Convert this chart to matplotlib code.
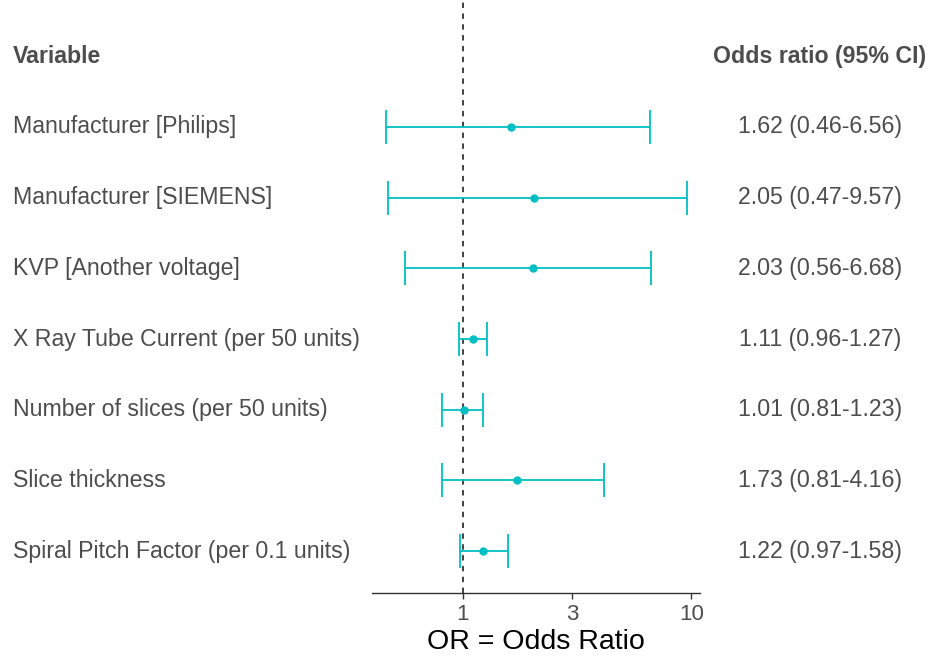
import numpy as np
import matplotlib
matplotlib.use('Agg')
import matplotlib.pyplot as plt
import matplotlib.transforms as mtransforms

plt.rcParams['font.family'] = ['Liberation Sans', 'DejaVu Sans']

variables = ['Manufacturer [Philips]',
             'Manufacturer [SIEMENS]',
             'KVP [Another voltage]',
             'X Ray Tube Current (per 50 units)',
             'Number of slices (per 50 units)',
             'Slice thickness',
             'Spiral Pitch Factor (per 0.1 units)']
odds = [1.62, 2.05, 2.03, 1.11, 1.01, 1.73, 1.22]
lower = [0.46, 0.47, 0.56, 0.96, 0.81, 0.81, 0.97]
upper = [6.56, 9.57, 6.68, 1.27, 1.23, 4.16, 1.58]
xticks = [1, 3, 10]

teal = '#00BFC4'
txt = '#4D4D4D'
fnt = 16.7

fig = plt.figure(figsize=(9.34, 6.62), dpi=100)
ax = fig.add_axes([372/934, 69/662, 328/934, 593/662])

rows = np.arange(1, len(variables)+1)
odds = np.array(odds)
lower = np.array(lower)
upper = np.array(upper)
err = np.vstack([odds-lower, upper-odds])

ax.axvline(1, color='#333333', ls=(0, (3, 3)), lw=1.3, zorder=1)
ax.errorbar(odds, rows, xerr=err, fmt='o', color=teal, ms=5,
            elinewidth=1.3, capsize=12, capthick=1.3, zorder=3)

ax.set_xscale('log')
ax.set_xlim(0.40, 10.9)
ax.set_ylim(7.594, -0.797)
ax.set_xticks(xticks)
ax.set_xticklabels([str(t) for t in xticks])
ax.minorticks_off()
ax.set_yticks([])
for s in ['top', 'right', 'left']:
    ax.spines[s].set_visible(False)
ax.spines['bottom'].set_color('#333333')
ax.spines['bottom'].set_linewidth(1.0)
ax.tick_params(axis='x', colors='#333333', labelcolor=txt, labelsize=16,
               length=4, width=1.0, pad=4)
ax.set_xlabel('OR = Odds Ratio', fontsize=20.5, color='black', labelpad=3)

trans = mtransforms.blended_transform_factory(fig.transFigure, ax.transData)
ax.text(13/934, 0, 'Variable', transform=trans, ha='left', va='center',
        fontsize=fnt, fontweight='bold', color=txt)
ax.text(820/934, 0, 'Odds ratio (95% CI)', transform=trans, ha='center',
        va='center', fontsize=fnt, fontweight='bold', color=txt)
for r, v, o, lo, hi in zip(rows, variables, odds, lower, upper):
    ax.text(13/934, r, v, transform=trans, ha='left', va='center',
            fontsize=fnt, color=txt)
    ax.text(820/934, r, '{:.2f} ({:.2f}-{:.2f})'.format(o, lo, hi),
            transform=trans, ha='center', va='center', fontsize=fnt, color=txt)

plt.savefig('out.png', dpi=100)
